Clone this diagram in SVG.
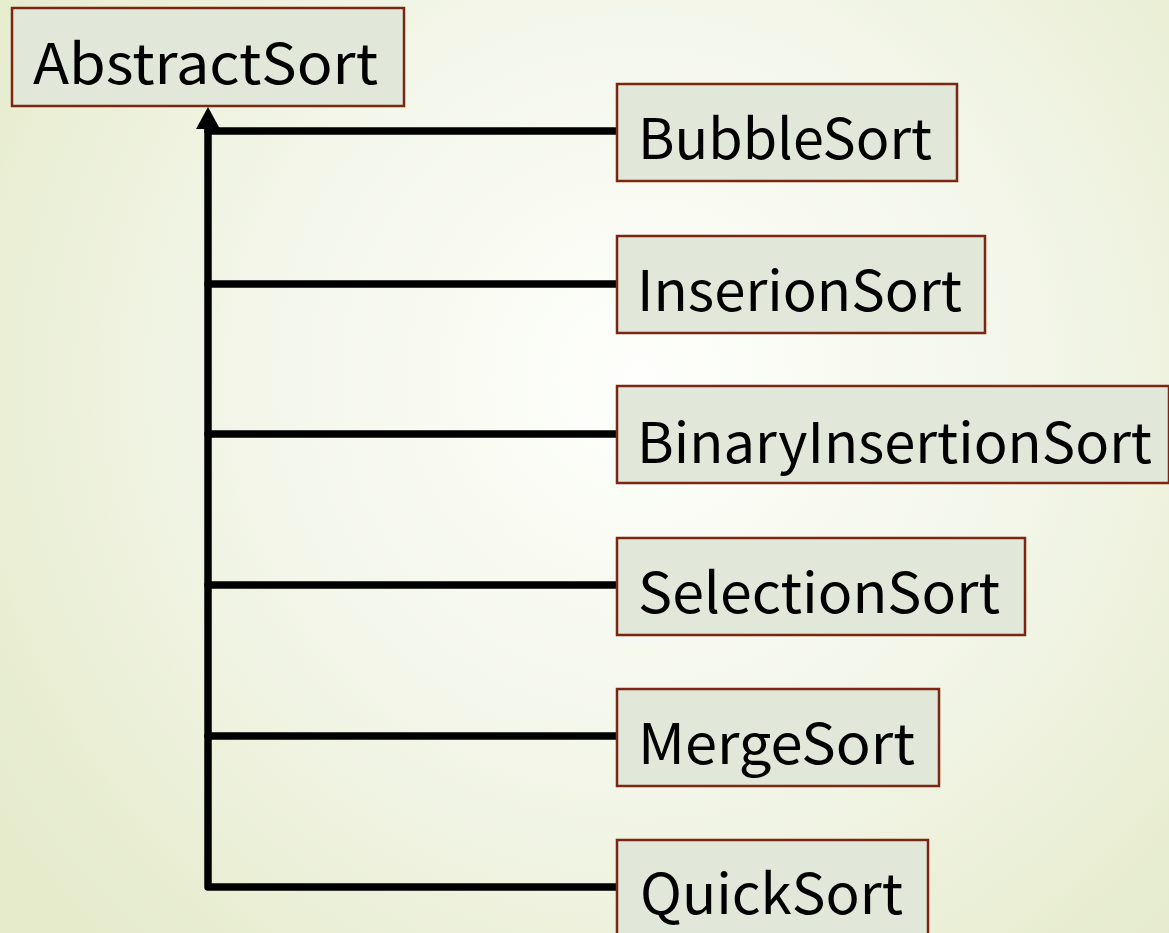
<svg xmlns="http://www.w3.org/2000/svg" width="1169" height="933" viewBox="0 0 1169 933">
<defs>
<radialGradient id="bg" cx="640" cy="380" r="780" gradientUnits="userSpaceOnUse">
<stop offset="0" stop-color="#FEFFFC"/>
<stop offset="0.5" stop-color="#F3F6E9"/>
<stop offset="1" stop-color="#E5EBCB"/>
</radialGradient>
<style>
.box{fill:#E2E8D9;stroke:#7A2612;stroke-width:2.5}
.lbl{font-family:"Noto Sans CJK JP","Noto Sans",sans-serif;font-size:56px;fill:#000}
.ln{stroke:#000;stroke-width:7.5;fill:none;stroke-linecap:round;stroke-linejoin:round}
</style>
</defs>
<rect width="1169" height="933" fill="url(#bg)"/>
<g id="connectors">
<path class="ln" d="M208 126 V887 H617"/>
<path class="ln" d="M208 131 H617 M208 284 H617 M208 434 H617 M208 585 H617 M208 736 H617"/>
<polygon points="208,107 196,129 220,129" fill="#000"/>
</g>
<g id="AbstractSort">
<rect class="box" x="12" y="8" width="392" height="98"/>
<text class="lbl" x="33" y="84" textLength="345" lengthAdjust="spacingAndGlyphs">AbstractSort</text>
</g>
<g id="BubbleSort">
<rect class="box" x="617" y="84" width="340" height="97"/>
<text class="lbl" x="638" y="159" textLength="294" lengthAdjust="spacingAndGlyphs">BubbleSort</text>
</g>
<g id="InserionSort">
<rect class="box" x="617" y="236" width="368" height="97"/>
<text class="lbl" x="637" y="311" textLength="325" lengthAdjust="spacingAndGlyphs">InserionSort</text>
</g>
<g id="BinaryInsertionSort">
<rect class="box" x="617" y="386" width="552" height="97"/>
<text class="lbl" x="637" y="463" textLength="515" lengthAdjust="spacingAndGlyphs">BinaryInsertionSort</text>
</g>
<g id="SelectionSort">
<rect class="box" x="617" y="538" width="408" height="97"/>
<text class="lbl" x="638" y="613" textLength="362" lengthAdjust="spacingAndGlyphs">SelectionSort</text>
</g>
<g id="MergeSort">
<rect class="box" x="617" y="689" width="322" height="97"/>
<text class="lbl" x="638" y="764" textLength="277" lengthAdjust="spacingAndGlyphs">MergeSort</text>
</g>
<g id="QuickSort">
<rect class="box" x="617" y="840" width="311" height="110"/>
<text class="lbl" x="640" y="914" textLength="263" lengthAdjust="spacingAndGlyphs">QuickSort</text>
</g>
</svg>
